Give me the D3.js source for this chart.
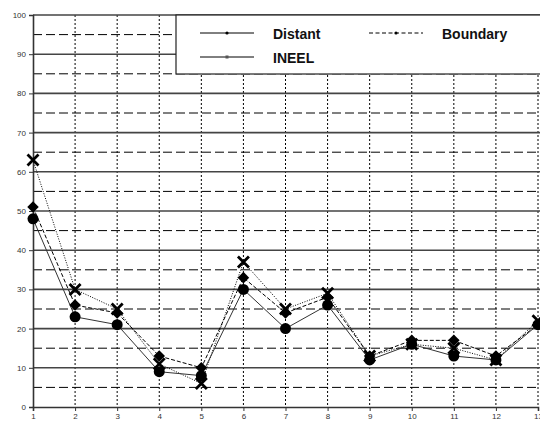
<!DOCTYPE html>
<html><head><meta charset="utf-8">
<script src="https://cdn.jsdelivr.net/npm/d3@7"></script>
<style>body{margin:0;background:#fff}svg{display:block}text{font-family:"Liberation Sans",Arial,sans-serif}</style>
</head><body>
<script>
const categories = [1,2,3,4,5,6,7,8,9,10,11,12,13];
const distant  = [48,23,21,9,8,30,20,26,12,16,13,12,21];
const boundary = [51,26,24,13,10,33,24,28,13,17,17,13,21];
const ineel    = [63,30,25,11,6,37,25,29,13,16,15,12,22];
const yTicks = [0,10,20,30,40,50,60,70,80,90,100];
const yHalf = [5,15,25,35,45,55,65,75,85,95];

const W=540,H=422;
const svg=d3.select("body").append("svg").attr("width",W).attr("height",H);
const x=d3.scaleLinear().domain([1,13]).range([33,538]);
const y=d3.scaleLinear().domain([0,100]).range([407,15]);

// grid
const g=svg.append("g");
g.selectAll(".vg").data(categories.slice(1)).enter().append("line")
 .attr("x1",d=>x(d)).attr("x2",d=>x(d)).attr("y1",y(100)).attr("y2",y(0))
 .attr("stroke","#000").attr("stroke-width",1).attr("stroke-dasharray","2,2");
g.selectAll(".hd").data(yHalf).enter().append("line")
 .attr("x1",33).attr("x2",W).attr("y1",d=>y(d)).attr("y2",d=>y(d))
 .attr("stroke","#000").attr("stroke-width",1).attr("stroke-dasharray","9,4");
g.selectAll(".hs").data(yTicks.slice(1)).enter().append("line")
 .attr("x1",33).attr("x2",W).attr("y1",d=>y(d)).attr("y2",d=>y(d))
 .attr("stroke","#444").attr("stroke-width",1.6);

// axes
const ya=svg.append("g").attr("transform","translate(33,0)")
 .call(d3.axisLeft(y).tickValues(yTicks).tickSize(4).tickPadding(3));
const xa=svg.append("g").attr("transform","translate(0,407)")
 .call(d3.axisBottom(x).tickValues(categories).tickSize(4).tickPadding(2));
[ya,xa].forEach(a=>{a.select(".domain").attr("stroke","#333").attr("stroke-width",1.6);
 a.selectAll(".tick line").attr("stroke","#333");
 a.selectAll("text").attr("font-size",8).attr("fill","#333").attr("font-family","Liberation Sans, Arial, sans-serif");});

// series
const line=d3.line().x((d,i)=>x(categories[i])).y(d=>y(d));
svg.append("path").datum(ineel).attr("d",line).attr("fill","none").attr("stroke","#000").attr("stroke-width",1).attr("stroke-dasharray","1,1.5");
svg.append("path").datum(boundary).attr("d",line).attr("fill","none").attr("stroke","#000").attr("stroke-width",1).attr("stroke-dasharray","4,2");
svg.append("path").datum(distant).attr("d",line).attr("fill","none").attr("stroke","#333").attr("stroke-width",1);

svg.selectAll(".xm").data(ineel).enter().append("path")
 .attr("transform",(d,i)=>`translate(${x(categories[i])},${y(d)})`)
 .attr("d","M-5.5,-5.5L5.5,5.5M-5.5,5.5L5.5,-5.5").attr("stroke","#000").attr("stroke-width",2.8);
svg.selectAll(".dm").data(boundary).enter().append("path")
 .attr("transform",(d,i)=>`translate(${x(categories[i])},${y(d)})`)
 .attr("d",d3.symbol(d3.symbolDiamond2,85)()).attr("fill","#000");
svg.selectAll(".cm").data(distant).enter().append("circle")
 .attr("cx",(d,i)=>x(categories[i])).attr("cy",d=>y(d)).attr("r",5.5).attr("fill","#000");

// legend
const lg=svg.append("g");
lg.append("rect").attr("x",176).attr("y",15).attr("width",370).attr("height",59).attr("fill","#fff").attr("stroke","#222").attr("stroke-width",1.2);
const items=[{n:"Distant",lx:200,ty:33,tx:273,dash:null,m:"c"},{n:"INEEL",lx:200,ty:57,tx:273,dash:null,m:"s"},{n:"Boundary",lx:369,ty:33,tx:442,dash:"4,2.5",m:"c"}];
items.forEach(it=>{
 lg.append("line").attr("x1",it.lx).attr("x2",it.lx+54).attr("y1",it.ty).attr("y2",it.ty).attr("stroke","#000").attr("stroke-width",1).attr("stroke-dasharray",it.dash);
 if(it.m==="c") lg.append("circle").attr("cx",it.lx+27).attr("cy",it.ty).attr("r",1.6).attr("fill","#000");
 else lg.append("rect").attr("x",it.lx+25.5).attr("y",it.ty-1.5).attr("width",3).attr("height",3).attr("fill","#555");
 lg.append("text").attr("x",it.tx).attr("y",it.ty+5.5).attr("font-size",14).attr("font-weight","bold").attr("fill","#111").text(it.n);
});
</script>
</body></html>
